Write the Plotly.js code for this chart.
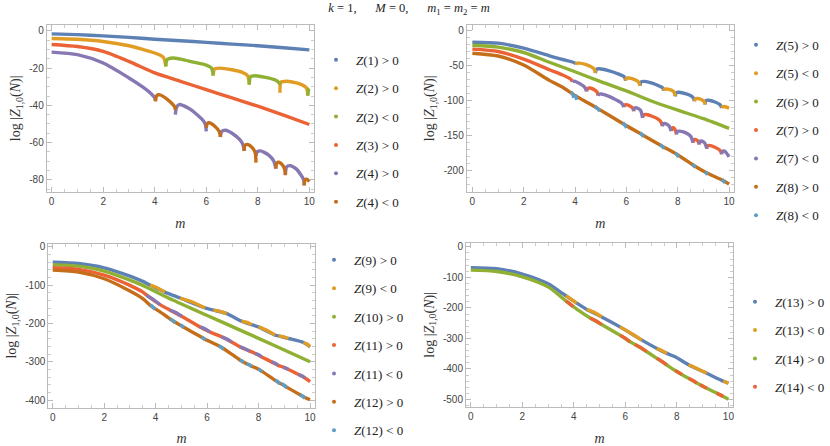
<!DOCTYPE html>
<html><head><meta charset="utf-8">
<script src="https://cdn.plot.ly/plotly-3.0.1.min.js"></script>
<style>html,body{margin:0;padding:0;background:#fff}</style>
</head><body><div id="chart" style="width:830px;height:446px"></div>
<script>
// ---------- tick labels ----------
const xTickVals = [0, 2, 4, 6, 8, 10];
const xTickText = ['0', '2', '4', '6', '8', '10'];
const y1TickVals = [0, -20, -40, -60, -80];
const y1TickText = ['0', '-20', '-40', '-60', '-80'];
const y2TickVals = [0, -50, -100, -150, -200];
const y2TickText = ['0', '-50', '-100', '-150', '-200'];
const y3TickVals = [0, -100, -200, -300, -400];
const y3TickText = ['0', '-100', '-200', '-300', '-400'];
const y4TickVals = [0, -100, -200, -300, -400, -500];
const y4TickText = ['0', '-100', '-200', '-300', '-400', '-500'];

// ---------- panel 1 : Z(1)..Z(4) ----------
const z1pX = [0,1,2,3,4,5,6,7,8,9,10];
const z1pY = [-1.6,-2.0,-2.7,-3.5,-4.5,-5.3,-6.2,-7.1,-8.0,-9.1,-10.2];
const z2pX = [0,1,2,3,3.5,4,4.2,4.35,4.43,null,6.27,6.32,6.5,7.0,7.4,7.6,7.67,null,8.86,8.9,9.1,9.5,9.8,9.9,9.94];
const z2pY = [-4.1,-4.5,-5.7,-8.0,-9.8,-11.9,-13.0,-14.5,-19.1,null,-24,-20.5,-20.0,-20.9,-22.3,-24,-28.9,null,-33.3,-27.6,-27.1,-28,-29.6,-31,-34.8];
const z2nX = [4.43,4.48,4.7,5.0,5.5,6.0,6.2,6.27,null,7.67,7.72,7.9,8.3,8.7,8.82,8.86,null,9.94,9.97,10];
const z2nY = [-19.1,-15.5,-14.6,-15.2,-16.8,-18.4,-20,-24,null,-28.9,-24.6,-24.1,-25,-26.5,-27.8,-29,null,-34.8,-31.5,-31];
const z3pX = [0,1,2,3,4,5,6,7,8,9,10];
const z3pY = [-7.3,-8.4,-11,-16.4,-22.6,-27.1,-31.6,-36,-40.5,-45.3,-50.3];
const z4pX = [0,1,2,3,3.5,3.8,4.0,4.03,null,4.8,4.85,4.95,5.3,5.6,5.9,5.97,6.0,null,6.55,6.6,6.75,7.0,7.3,7.42,7.47,null,7.93,7.98,8.1,8.4,8.62,8.7,null,9.07,9.12,9.25,9.5,9.7,9.78,9.8];
const z4pY = [-11.4,-12.8,-17.3,-25.3,-29.8,-33,-36,-37.8,null,-45,-41,-39.6,-41.5,-44.5,-48.5,-50.5,-54,null,-57,-54,-53.4,-55,-58.5,-61,-64.5,null,-67,-65,-64.5,-66.5,-70,-74,null,-77.5,-73,-72.4,-74.3,-78,-80,-83];
const z4nX = [4.03,4.08,4.2,4.5,4.7,4.78,4.8,null,6.0,6.04,6.12,6.35,6.5,6.55,null,7.47,7.5,7.6,7.8,7.9,7.93,null,8.7,8.74,8.82,8.98,9.05,9.07,null,9.8,9.84,9.92,10];
const z4nY = [-37.8,-34.8,-34.4,-36.9,-39.5,-41,-42.5,null,-52,-49.8,-49.4,-51.5,-54,-57,null,-64.5,-61.5,-61,-63,-65.5,-70.8,null,-74,-71,-70.6,-72.5,-75,-77.5,null,-83,-80,-79.8,-81];

// ---------- panel 2 : Z(5)..Z(8) ----------
const z5pX = [0,1,2,3,3.5,4,4.03,null,4.79,4.84,4.95,5.3,5.7,5.92,5.97,null,6.53,6.58,6.7,7.0,7.3,7.42,7.45,null,7.9,7.95,8.05,8.3,8.55,8.62,8.65,null,9.06,9.1,9.2,9.45,9.65,9.71];
const z5pY = [-16.2,-17.6,-24.8,-35.7,-41,-46.2,-48,null,-60.5,-55,-54.3,-57,-62,-66,-71.4,null,-78.6,-73,-72.4,-75,-79.5,-82,-85.7,null,-93.8,-88.5,-88,-90,-94,-97,-101,null,-105.7,-100,-99.5,-102,-106,-110.5];
const z5nX = [4.03,4.07,4.15,4.4,4.65,4.75,4.79,null,5.97,6.0,6.08,6.3,6.47,6.53,null,7.45,7.48,7.55,7.75,7.86,7.9,null,8.65,8.69,8.77,8.95,9.03,9.06,null,9.71,9.75,9.82,10];
const z5nY = [-48,-46.5,-46.2,-48,-52,-55,-60.5,null,-71.4,-68,-67.6,-69.5,-73,-78.6,null,-85.7,-83.5,-83.3,-85,-88,-93.8,null,-101,-97.5,-97.1,-99,-101.5,-105.7,null,-110.5,-109,-108.5,-111];
const z6pX = [0,1,2,3,4,5,6,7,8,9,10];
const z6pY = [-20.5,-23.3,-31,-45,-58.6,-72.9,-86.2,-101,-113.8,-126,-140];
const z7pX = [0,1,2,3,3.5,3.85,3.9,null,4.45,4.5,4.58,4.75,4.86,4.9,null,5.9,5.93,6.0,6.15,6.25,6.28,null,6.63,6.67,6.77,7.0,7.25,7.35,7.4,null,7.75,7.78,7.83,7.9,7.95,null,8.6,8.63,8.68,8.78,8.84,null,9.13,9.16,9.22,9.45,9.65,9.71];
const z7pY = [-26.2,-29.5,-40.5,-55.7,-63,-70,-73,null,-86.7,-82.5,-82,-84.5,-88,-92.9,null,-109.5,-106.5,-106,-108,-111,-115.2,null,-124.8,-120.5,-120,-122.5,-127,-131,-136.7,null,-143.8,-139.5,-139,-142,-148.6,null,-160.5,-156,-155.7,-158,-162.9,null,-169,-164.8,-164.3,-167,-171.5,-177];
const z7nX = [3.9,3.93,4.0,4.2,4.38,4.45,null,4.9,4.94,5.02,5.3,5.6,5.82,5.9,null,6.28,6.32,6.4,6.55,6.63,null,7.4,7.44,7.5,7.65,7.75,null,7.95,7.99,8.07,8.3,8.5,8.6,null,8.84,8.87,8.93,9.05,9.13,null,9.71,9.75,9.82,10];
const z7nY = [-73,-72.5,-72.4,-76,-81,-86.7,null,-92.9,-90.8,-90.5,-93.5,-99,-104,-109.5,null,-115.2,-110.8,-110.5,-114,-124.8,null,-136.7,-133.2,-132.9,-136,-143.8,null,-148.6,-144.2,-143.8,-146,-151,-160.5,null,-162.9,-158.5,-158,-161,-169,null,-177,-172.8,-172.4,-180.5];
const z8pX = [0,1,2,3,3.5,3.94,4.84,5.92,6.6,7.38,7.96,8.61,9.1,9.78,10];
const z8pY = [-32,-36,-49,-71,-80.5,-91.4,-110.5,-134.3,-148.6,-165.2,-177,-192.9,-203.3,-215,-220];
const z8nX = [3.84,3.9,3.95,null,4.0,4.03,4.06,null,4.78,4.86,4.97,null,5.86,5.92,6.01,null,6.53,6.6,6.66,null,7.31,7.38,7.47,null,7.9,7.96,8.03,null,8.57,8.62,8.68,null,9.06,9.1,9.16,null,9.73,9.78,9.84];
const z8nY = [-88,-90,-96,null,-92,-94,-99,null,-108,-111,-115.2,null,-131.9,-134.3,-139,null,-146.2,-148.6,-151.9,null,-163.3,-165.2,-169,null,-175.7,-177,-181.4,null,-191.4,-193,-196.2,null,-202.4,-203.3,-206.7,null,-213,-215.5,-218];

// ---------- panel 3 : Z(9)..Z(12) ----------
const z9pX = [0,1,2,3,3.5,3.78,4.36,4.95,5.92,6.24,6.76,7.34,7.73,7.99,8.64,8.77,9.16,9.74,10];
const z9pY = [-39.8,-43.3,-54.5,-76.2,-90,-99.6,-117.8,-133.4,-159.3,-165,-174,-194,-203,-208.7,-230.3,-232,-239,-249.4,-260.6];
const z9nX = [3.78,4.0,4.36,null,4.95,5.4,5.92,null,6.24,6.5,6.76,null,7.34,7.55,7.73,null,7.99,8.3,8.64,null,8.77,8.95,9.16,null,9.74,9.9,10];
const z9nY = [-99.6,-104.5,-117.8,null,-133.4,-143,-159.3,null,-165,-168,-174,null,-194,-197,-203,null,-208.7,-217,-230.3,null,-232,-234,-239,null,-249.4,-254,-260.6];
const z10pX = [0,1,2,3,3.5,4.69,5.98,7.28,8.57,10];
const z10pY = [-46.8,-50.2,-63.2,-86.6,-100.4,-139.4,-178.4,-217,-256,-299.6];
const z11pX = [0,1,2,3,3.5,3.65,4.17,4.56,5.01,5.72,6.11,6.56,6.95,7.27,7.66,7.86,8.12,8.5,8.76,8.96,9.16,9.55,9.8,10];
const z11pY = [-54.5,-58.9,-73.6,-100.4,-117.8,-126,-150.6,-165,-181,-208.7,-222,-234.6,-248,-260.6,-272,-278,-287,-300,-309,-314,-320,-333,-342,-351.5];
const z11nX = [3.65,3.9,4.17,null,4.56,4.78,5.01,null,5.72,5.9,6.11,null,6.56,6.75,6.95,null,7.27,7.45,7.66,null,7.86,7.98,8.12,null,8.5,8.63,8.76,null,8.96,9.06,9.16,null,9.55,9.68,9.8];
const z11nY = [-126,-137,-150.6,null,-165,-171,-181,null,-208.7,-213,-222,null,-234.6,-240,-248,null,-260.6,-265,-272,null,-278,-281,-287,null,-300,-303,-309,null,-314,-316,-320,null,-333,-336,-342];
const z12pX = [0,1,2,3,3.5,3.78,3.97,4.17,4.56,4.75,4.95,5.08,5.79,5.92,6.44,6.63,7.27,7.4,7.53,7.73,7.99,8.12,8.64,8.83,8.9,9.09,9.61,9.8,10];
const z12pY = [-60.6,-65.8,-83.1,-115.2,-135,-152,-161,-169.7,-188,-196,-204,-209,-236,-241,-258,-265,-295,-300,-305,-311,-319,-324,-348,-356,-358,-366,-386,-393,-399];
const z12nX = [3.78,3.87,3.97,null,4.56,4.65,4.75,null,4.95,5.01,5.08,null,5.79,5.85,5.92,null,6.44,6.53,6.63,null,7.27,7.33,7.4,null,7.53,7.63,7.73,null,7.99,8.05,8.12,null,8.64,8.73,8.83,null,8.9,9.0,9.09,null,9.61,9.7,9.8];
const z12nY = [-152,-155,-163,null,-188,-191,-198,null,-204,-205,-211,null,-236,-238,-243,null,-258,-261,-267,null,-295,-297,-302,null,-305,-307,-313,null,-319,-321,-326,null,-348,-351,-358,null,-358,-361,-368,null,-386,-389,-395];

// ---------- panel 4 : Z(13), Z(14) ----------
const z13pX = [0,1,2,3,3.55,3.69,4.11,4.5,5.08,5.79,6.64,7.22,7.61,7.93,8.45,9.16,9.8,10];
const z13pY = [-68.5,-71.7,-89,-121,-152,-160,-184,-205,-229.4,-262,-305.5,-332.6,-349,-359.8,-386,-414.2,-440,-446.8];
const z13nX = [3.69,3.9,4.11,null,4.5,4.8,5.08,null,5.79,6.2,6.64,null,7.22,7.42,7.61,null,8.45,8.8,9.16,null,9.8,9.9,10];
const z13nY = [-160,-172,-184,null,-205,-215,-229.4,null,-262,-282,-305.5,null,-332.6,-340,-349,null,-386,-399,-414.2,null,-440,-443,-446.8];
const z14pX = [0,1,2,3,3.55,3.69,3.98,4.11,4.63,5.08,5.79,6.18,6.37,6.83,7.22,7.61,7.93,8.19,8.45,8.77,8.9,9.16,9.54,9.8,10];
const z14pY = [-76.1,-80.5,-98,-131,-167,-177,-196,-204,-233,-254.4,-289.2,-311,-320,-343.5,-365,-387,-405,-418,-430.5,-446,-452,-463,-479,-490,-499];
const z14nX = [3.69,3.83,3.98,null,4.63,4.85,5.08,null,5.79,5.98,6.18,null,6.37,6.6,6.83,null,7.22,7.42,7.61,null,7.93,8.06,8.19,null,8.45,8.61,8.77,null,8.9,9.03,9.16,null,9.54,9.67,9.8];
const z14nY = [-177,-186,-196,null,-233,-242,-254.4,null,-289.2,-298,-311,null,-320,-330,-343.5,null,-365,-375,-387,null,-405,-411,-418,null,-430.5,-437,-446,null,-452,-457,-463,null,-479,-484,-490];

// ---------- styling ----------
const C = ['#5E81B5','#E19C24','#8FB032','#EB6235','#8778B3','#C56E1A','#5D9EC7'];
const LW = 3.4;

const panels = [
  {ax: '', leg: 'legend', series: [
    ['<i>Z</i>(1) > 0', z1pX, z1pY], ['<i>Z</i>(2) > 0', z2pX, z2pY], ['<i>Z</i>(2) < 0', z2nX, z2nY],
    ['<i>Z</i>(3) > 0', z3pX, z3pY], ['<i>Z</i>(4) > 0', z4pX, z4pY], ['<i>Z</i>(4) < 0', z4nX, z4nY]]},
  {ax: '2', leg: 'legend2', series: [
    ['<i>Z</i>(5) > 0', z5pX, z5pY], ['<i>Z</i>(5) < 0', z5nX, z5nY], ['<i>Z</i>(6) > 0', z6pX, z6pY],
    ['<i>Z</i>(7) > 0', z7pX, z7pY], ['<i>Z</i>(7) < 0', z7nX, z7nY], ['<i>Z</i>(8) > 0', z8pX, z8pY],
    ['<i>Z</i>(8) < 0', z8nX, z8nY]]},
  {ax: '3', leg: 'legend3', series: [
    ['<i>Z</i>(9) > 0', z9pX, z9pY], ['<i>Z</i>(9) < 0', z9nX, z9nY], ['<i>Z</i>(10) > 0', z10pX, z10pY],
    ['<i>Z</i>(11) > 0', z11pX, z11pY], ['<i>Z</i>(11) < 0', z11nX, z11nY], ['<i>Z</i>(12) > 0', z12pX, z12pY],
    ['<i>Z</i>(12) < 0', z12nX, z12nY]]},
  {ax: '4', leg: 'legend4', series: [
    ['<i>Z</i>(13) > 0', z13pX, z13pY], ['<i>Z</i>(13) < 0', z13nX, z13nY], ['<i>Z</i>(14) > 0', z14pX, z14pY],
    ['<i>Z</i>(14) < 0', z14nX, z14nY]]}
];

const traces = [];
panels.forEach(p => {
  p.series.forEach((s, i) => {
    traces.push({x: s[1], y: s[2], type: 'scatter', mode: 'lines', xaxis: 'x' + p.ax, yaxis: 'y' + p.ax,
      line: {color: C[i], width: LW, shape: 'spline', smoothing: 0.7}, showlegend: false, hoverinfo: 'skip', connectgaps: false});
  });
  p.series.forEach((s, i) => {
    traces.push({x: [null], y: [null], type: 'scatter', mode: 'markers', xaxis: 'x' + p.ax, yaxis: 'y' + p.ax,
      marker: {color: C[i], size: 4}, name: s[0], legend: p.leg, legendgroup: p.leg + 'g' + i, showlegend: true});
  });
});

const tickFont = {family: 'Liberation Sans, Arial, sans-serif', size: 10, color: '#444'};
const titleFont = {family: 'Liberation Serif, Times New Roman, serif', size: 14, color: '#333'};
function xa(domain, range, anchor) {
  return {domain, range, anchor, showline: true, linecolor: '#bbbbbb', linewidth: 1, mirror: 'ticks',
    ticks: 'inside', ticklen: 5, tickcolor: '#bbbbbb', showgrid: false, zeroline: false,
    tickmode: 'array', tickvals: xTickVals, ticktext: xTickText, tickfont: tickFont,
    minor: {tickmode: 'linear', tick0: 0, dtick: 0.5, ticks: 'inside', ticklen: 3, tickcolor: '#cccccc'},
    title: {text: '<i>m</i>', font: titleFont, standoff: 12}};
}
function ya(domain, range, anchor, tv, tt, md) {
  return {domain, range, anchor, showline: true, linecolor: '#bbbbbb', linewidth: 1, mirror: 'ticks',
    ticks: 'inside', ticklen: 5, tickcolor: '#bbbbbb', showgrid: false, zeroline: false,
    tickmode: 'array', tickvals: tv, ticktext: tt, tickfont: tickFont,
    minor: {tickmode: 'linear', tick0: 0, dtick: md, ticks: 'inside', ticklen: 3, tickcolor: '#cccccc'},
    title: {text: 'log |<i>Z</i><sub>1,0</sub>(<i>N</i>)|', font: titleFont, standoff: 5}};
}
const legFont = {family: 'Liberation Serif, Times New Roman, serif', size: 13, color: '#222'};
function lg(x, y) {
  return {x, y, xanchor: 'left', yanchor: 'top', font: legFont, bgcolor: 'rgba(0,0,0,0)', tracegroupgap: 8.5, itemclick: false};
}

const layout = {
  width: 830, height: 446, margin: {l: 0, r: 0, t: 0, b: 0},
  paper_bgcolor: '#fff', plot_bgcolor: '#fff', showlegend: true,
  title: {text: '<i>k</i> = 1,\u2003\u2002<i>M</i> = 0,\u2003\u2002<i>m</i><sub>1</sub> = <i>m</i><sub>2</sub> = <i>m</i>',
    x: 409 / 830, xanchor: 'center', y: 1 - 8 / 446, yanchor: 'middle',
    font: {family: 'Liberation Serif, Times New Roman, serif', size: 12.5, color: '#222'}},
  xaxis: xa([0.0563, 0.3783], [-0.19, 10.18], 'y'),
  yaxis: ya([0.5679, 0.9439], [-86.5, 3.2], 'x', y1TickVals, y1TickText, 5),
  xaxis2: xa([0.5623, 0.8843], [-0.22, 10.19], 'y2'),
  yaxis2: ya([0.5679, 0.9439], [-231, 8.6], 'x2', y2TickVals, y2TickText, 10),
  xaxis3: xa([0.0582, 0.3795], [-0.17, 10.19], 'y3'),
  yaxis3: ya([0.0814, 0.4513], [-420, 8.6], 'x3', y3TickVals, y3TickText, 20),
  xaxis4: xa([0.5614, 0.8835], [-0.19, 10.19], 'y4'),
  yaxis4: ya([0.0830, 0.4536], [-525, 14], 'x4', y4TickVals, y4TickText, 20),
  legend: lg(316 / 830, 1 - 45 / 446),
  legend2: lg(736 / 830, 1 - 30 / 446),
  legend3: lg(314 / 830, 1 - 246 / 446),
  legend4: lg(735 / 830, 1 - 288 / 446)
};

Plotly.newPlot('chart', traces, layout, {displayModeBar: false, staticPlot: true});
</script></body></html>
